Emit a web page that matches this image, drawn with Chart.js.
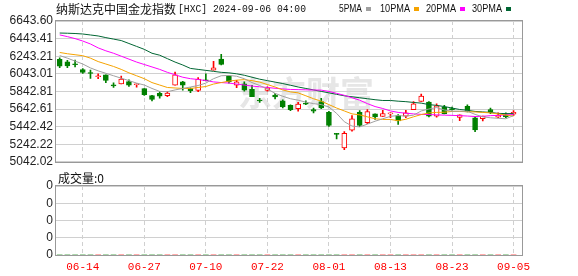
<!DOCTYPE html>
<html>
<head>
<meta charset="utf-8">
<script src="https://cdn.jsdelivr.net/npm/chart.js@4/dist/chart.umd.min.js"></script>
<style>
  html, body { margin: 0; padding: 0; background: #fff; }
  #wrap { position: relative; width: 578px; height: 276px; }
  #kline { position: absolute; left: 0; top: 0; }
  #vol { position: absolute; left: 0; top: 172px; }
</style>
</head>
<body>
<div id="wrap">
  <canvas id="kline" width="578" height="172"></canvas>
  <canvas id="vol" width="578" height="104"></canvas>
</div>
<script>
// ---- data ----
const dates = ['06-11','06-12','06-13','06-14','06-17','06-18','06-20','06-21','06-24','06-25',
  '06-26','06-27','06-28','07-01','07-02','07-03','07-05','07-08','07-09','07-10',
  '07-11','07-12','07-15','07-16','07-17','07-18','07-19','07-22','07-23','07-24',
  '07-25','07-26','07-29','07-30','07-31','08-01','08-02','08-05','08-06','08-07',
  '08-08','08-09','08-12','08-13','08-14','08-15','08-16','08-19','08-20','08-21',
  '08-22','08-23','08-26','08-27','08-28','08-29','08-30','09-03','09-04','09-05'];

const openVals = [6206.5, 6179.8, 6157.6, 6090.9, 6057.5, 6009.7, 6031.9, 5917.4, 5928.5, 5954.1,
  5920.7, 5876.2, 5795.0, 5820.6, 5795.0, 5912.9, 5950.7, 5876.2, 5854.0, 5973.0,
  6084.2, 6209.9, 6017.5, 5912.9, 5928.5, 5865.1, 5742.8, 5854.0, 5801.7, 5735.0,
  5683.8, 5646.0, 5709.4, 5634.9, 5728.3, 5606.0, 5364.6, 5201.1, 5401.3, 5606.0,
  5486.9, 5587.0, 5557.0, 5587.0, 5568.1, 5561.5, 5634.9, 5728.3, 5720.5, 5561.5,
  5664.9, 5646.0, 5545.9, 5672.7, 5542.6, 5531.4, 5634.9, 5550.3, 5579.3, 5583.7];
const closeVals = [6128.7, 6132.0, 6146.5, 6057.5, 6046.4, 6020.8, 5968.5, 5906.2, 5984.1, 5912.9,
  5928.5, 5806.2, 5750.5, 5787.2, 5823.9, 6031.9, 5912.9, 5850.6, 5984.1, 5965.2,
  6109.8, 6150.9, 5950.7, 5950.7, 5857.3, 5783.9, 5735.0, 5884.0, 5779.5, 5664.9,
  5634.9, 5698.3, 5698.3, 5617.1, 5653.8, 5456.9, 5353.5, 5364.6, 5531.4, 5456.9,
  5612.6, 5553.7, 5590.4, 5598.2, 5505.9, 5598.2, 5701.6, 5790.6, 5561.5, 5679.4,
  5590.4, 5634.9, 5575.9, 5609.3, 5405.8, 5561.5, 5612.6, 5572.6, 5553.7, 5606.0];
const highVals = [6224.3, 6195.4, 6198.8, 6102.0, 6084.2, 6043.0, 6031.9, 5939.6, 6017.5, 5973.0,
  5928.5, 5876.2, 5798.4, 5839.5, 5839.5, 6062.0, 5957.4, 5884.0, 5998.6, 6043.0,
  6184.3, 6265.5, 6024.1, 5968.5, 5950.7, 5912.9, 5765.0, 5895.1, 5820.6, 5746.1,
  5690.5, 5717.2, 5735.0, 5653.8, 5765.0, 5617.1, 5364.6, 5386.9, 5568.1, 5623.8,
  5634.9, 5587.0, 5628.2, 5598.2, 5579.3, 5628.2, 5728.3, 5812.8, 5728.3, 5701.6,
  5683.8, 5664.9, 5575.9, 5690.5, 5553.7, 5561.5, 5653.8, 5598.2, 5598.2, 5623.8];
const lowVals = [6113.1, 6113.1, 6120.9, 6046.4, 5990.8, 5987.4, 5943.0, 5887.3, 5928.5, 5898.5,
  5890.7, 5798.4, 5735.0, 5765.0, 5783.9, 5912.9, 5857.3, 5828.4, 5839.5, 5961.9,
  6084.2, 6143.1, 5935.2, 5884.0, 5846.2, 5783.9, 5717.2, 5846.2, 5757.2, 5653.8,
  5623.8, 5617.1, 5690.5, 5598.2, 5646.0, 5445.8, 5301.2, 5178.9, 5390.2, 5442.5,
  5475.8, 5523.6, 5557.0, 5542.6, 5468.0, 5542.6, 5634.9, 5728.3, 5553.7, 5550.3,
  5587.0, 5628.2, 5509.2, 5609.3, 5383.5, 5505.9, 5590.4, 5542.6, 5542.6, 5568.1];

const ma5 = [6249.9, 6221.0, 6187.6, 6154.3, 6109.8, 6076.4, 6048.6, 6020.8, 5993.0, 5965.2,
  5937.4, 5915.1, 5876.2, 5842.9, 5839.5, 5859.5, 5876.2, 5892.9, 5909.6, 5937.4,
  5987.4, 6020.8, 6024.1, 6015.2, 5987.4, 5943.0, 5909.6, 5870.7, 5820.6, 5787.2,
  5759.4, 5742.8, 5720.5, 5703.8, 5692.7, 5664.9, 5592.6, 5498.1, 5448.0, 5439.1,
  5470.3, 5503.6, 5531.4, 5559.3, 5568.1, 5561.5, 5572.6, 5620.4, 5642.7, 5659.3,
  5631.5, 5617.1, 5617.1, 5617.1, 5581.5, 5553.7, 5542.6, 5537.0, 5531.4, 5568.1];
const ma10 = [6285.5, 6271.1, 6259.9, 6248.8, 6221.0, 6182.1, 6154.3, 6126.5, 6093.1, 6054.2,
  6020.8, 5987.4, 5943.0, 5915.1, 5887.3, 5881.8, 5876.2, 5876.2, 5887.3, 5898.5,
  5926.3, 5943.0, 5959.6, 5970.8, 5976.3, 5965.2, 5948.5, 5920.7, 5892.9, 5859.5,
  5837.3, 5826.2, 5792.8, 5759.4, 5731.6, 5692.7, 5653.8, 5620.4, 5587.0, 5575.9,
  5553.7, 5531.4, 5523.6, 5523.6, 5509.2, 5525.9, 5553.7, 5579.3, 5598.2, 5603.7,
  5606.0, 5614.9, 5614.9, 5611.5, 5609.3, 5603.7, 5598.2, 5587.0, 5573.7, 5561.5];
const ma20 = [6485.7, 6465.7, 6443.4, 6415.6, 6382.3, 6337.8, 6304.4, 6276.6, 6243.2, 6209.9,
  6176.5, 6148.7, 6120.9, 6093.1, 6059.7, 6031.9, 6004.1, 5987.4, 5978.5, 5965.2,
  5950.7, 5943.0, 5937.4, 5926.3, 5915.1, 5904.0, 5895.1, 5887.3, 5878.4, 5870.7,
  5865.1, 5862.9, 5860.6, 5858.4, 5857.3, 5842.9, 5820.6, 5798.4, 5770.6, 5742.8,
  5703.8, 5670.5, 5648.2, 5620.4, 5603.7, 5594.8, 5587.0, 5581.5, 5579.3, 5575.9,
  5572.6, 5570.4, 5567.0, 5562.6, 5557.0, 5559.3, 5567.0, 5570.4, 5575.9, 5579.3];
const ma30 = [6506.8, 6504.6, 6501.3, 6495.7, 6484.6, 6473.5, 6454.6, 6437.9, 6421.2, 6387.8,
  6354.5, 6321.1, 6276.6, 6254.4, 6215.4, 6176.5, 6143.1, 6104.2, 6093.1, 6082.0,
  6070.9, 6059.7, 6054.2, 6043.0, 6026.4, 6004.1, 5981.9, 5965.2, 5948.5, 5931.8,
  5912.9, 5892.9, 5876.2, 5859.5, 5842.9, 5826.2, 5809.5, 5792.8, 5781.7, 5770.6,
  5759.4, 5748.3, 5739.4, 5739.4, 5731.6, 5726.1, 5717.2, 5709.4, 5692.7, 5683.8,
  5670.5, 5653.8, 5637.1, 5628.2, 5614.9, 5609.3, 5603.7, 5592.6, 5590.4, 5590.4];

const volume = dates.map(() => 0); // 成交量:0 for every day
const yTicks = [5042.02, 5242.22, 5442.42, 5642.61, 5842.81, 6043.01, 6243.21, 6443.41, 6643.60];
const volTickLabels = ['0', '0', '0', '0', '0'];
const tickDates = ['06-14', '06-27', '07-10', '07-22', '08-01', '08-13', '08-23', '09-05'];

// ---- helpers ----
const RED = '#ff0000', GREEN = '#008000';
const X_MIN = -0.48, X_MAX = 60.1;
const tickIdx = tickDates.map(d => dates.indexOf(d));
const isUp = closeVals.map((c, i) => c >= openVals[i]);
const pts = arr => arr.map((v, i) => ({ x: i, y: v }));

const maLine = (label, arr, color) => ({
  type: 'line', label, data: pts(arr), borderColor: color, borderWidth: 1,
  pointRadius: 0, tension: 0, order: 0
});

const frame = {
  id: 'frame',
  afterDraw(chart) {
    const { ctx, chartArea: a } = chart;
    ctx.save();
    ctx.strokeStyle = '#999';
    ctx.lineWidth = 1;
    ctx.strokeRect(Math.round(a.left) - 0.5, Math.round(a.top) - 0.5,
      Math.round(a.right - a.left) + 1, Math.round(a.bottom - a.top) + 1);
    ctx.restore();
  }
};

const header = {
  id: 'header',
  beforeDraw(chart) {
    // watermark
    const ctx = chart.ctx;
    ctx.save();
    ctx.fillStyle = '#e6e6e6';
    ctx.font = 'bold 34px "Noto Sans CJK SC"';
    ctx.textBaseline = 'middle';
    ctx.fillText('东方财富', 238, 93);
    ctx.restore();
  },
  afterDraw(chart) {
    const ctx = chart.ctx;
    ctx.save();
    ctx.textBaseline = 'middle';
    ctx.fillStyle = '#111';
    ctx.font = '12px "Noto Sans CJK SC"';
    ctx.fillText('纳斯达克中国金龙指数', 56, 9);
    ctx.font = '11px "Liberation Mono"';
    ctx.fillText('[HXC] 2024-09-06 04:00', 178, 9, 128);

    const items = [['5PMA', '#a0a0a0', 339, 23], ['10PMA', '#f5a300', 380, 30],
      ['20PMA', '#ff00ff', 426, 30], ['30PMA', '#006633', 472, 30]];
    ctx.font = '11px "Liberation Sans"';
    items.forEach(([t, c, x, w]) => {
      ctx.fillStyle = '#111';
      ctx.fillText(t, x, 9, w);
      ctx.fillStyle = c;
      ctx.fillRect(x + w + 4, 7, 5, 4);
    });
    ctx.restore();
  }
};

// ==== candles + moving averages ====
new Chart(document.getElementById('kline'), {
  type: 'bar',
  data: {
    datasets: [
      maLine('5PMA', ma5, '#a0a0a0'),
      maLine('10PMA', ma10, '#f5a300'),
      maLine('20PMA', ma20, '#ff00ff'),
      maLine('30PMA', ma30, '#006633'),
      {
        type: 'bar', data: dates.map((d, i) => ({ x: i, y: [openVals[i], closeVals[i]] })),
        backgroundColor: isUp.map(u => u ? '#fff' : GREEN),
        borderColor: isUp.map(u => u ? RED : GREEN),
        borderWidth: 1, borderSkipped: false, barThickness: 5, grouped: false, order: 1
      },
      {
        type: 'bar', data: dates.map((d, i) => ({ x: i, y: [lowVals[i], highVals[i]] })),
        backgroundColor: isUp.map(u => u ? RED : GREEN),
        borderWidth: 0, barThickness: 1, grouped: false, order: 2
      }
    ]
  },
  options: {
    responsive: false, animation: false, devicePixelRatio: 1,
    layout: { padding: { left: 0, right: 56, top: 21, bottom: 7 } },
    plugins: { legend: { display: false }, tooltip: { enabled: false } },
    scales: {
      x: {
        type: 'linear', min: X_MIN, max: X_MAX, offset: false,
        afterBuildTicks: s => { s.ticks = tickIdx.map(v => ({ value: v })); },
        ticks: { display: false },
        grid: { offset: false, color: '#d0d0d0', drawTicks: false },
        border: { display: false, dash: [4, 3] },
        afterFit: s => { s.height = 0; }
      },
      y: {
        min: yTicks[0], max: yTicks[yTicks.length - 1],
        afterBuildTicks: s => { s.ticks = yTicks.map(v => ({ value: v })); },
        ticks: {
          autoSkip: false, padding: 3, color: '#222',
          font: { family: 'Liberation Sans', size: 12 },
          callback: v => v.toFixed(2)
        },
        grid: { color: '#d0d0d0', drawTicks: false },
        border: { display: false },
        afterFit: s => { s.width = 56; }
      }
    }
  },
  plugins: [header, frame]
});

// ==== volume panel ====
const volLabel = {
  id: 'volLabel',
  afterDraw(chart) {
    const ctx = chart.ctx;
    ctx.save();
    ctx.fillStyle = '#111';
    ctx.textBaseline = 'middle';
    ctx.font = '12px "Noto Sans CJK SC"';
    ctx.fillText('成交量:' + volume[volume.length - 1], 58, 6);
    ctx.restore();
  }
};

new Chart(document.getElementById('vol'), {
  type: 'bar',
  data: {
    datasets: [{
      data: pts(volume), backgroundColor: isUp.map(u => u ? RED : GREEN),
      barThickness: 5, grouped: false
    }]
  },
  options: {
    responsive: false, animation: false, devicePixelRatio: 1,
    layout: { padding: { left: 0, right: 56, top: 14, bottom: 0 } },
    plugins: { legend: { display: false }, tooltip: { enabled: false } },
    scales: {
      x: {
        type: 'linear', min: X_MIN, max: X_MAX, offset: false,
        afterBuildTicks: s => { s.ticks = tickIdx.map(v => ({ value: v })); },
        ticks: {
          autoSkip: false, maxRotation: 0, padding: 5, color: '#ff0000',
          font: { family: 'Liberation Mono', size: 11 },
          callback: v => dates[v]
        },
        grid: { offset: false, color: '#d0d0d0', drawTicks: false },
        border: { display: false, dash: [4, 3] },
        afterFit: s => { s.height = 21; }
      },
      y: {
        min: 0, max: 4,
        afterBuildTicks: s => { s.ticks = volTickLabels.map((t, i) => ({ value: i })); },
        ticks: {
          autoSkip: false, padding: 3, color: '#222',
          font: { family: 'Liberation Sans', size: 12 },
          callback: (v, i) => volTickLabels[i]
        },
        grid: { color: '#d0d0d0', drawTicks: false },
        border: { display: false },
        afterFit: s => { s.width = 56; }
      }
    }
  },
  plugins: [volLabel, frame]
});
</script>
</body>
</html>
